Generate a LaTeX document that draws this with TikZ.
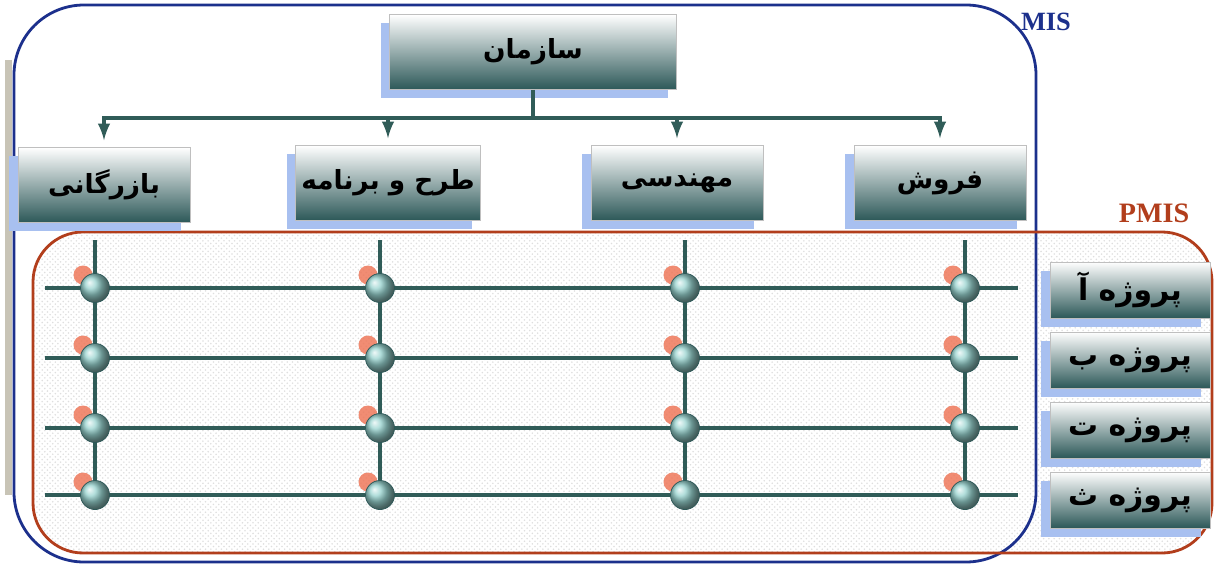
\documentclass[tikz,border=0pt]{standalone}
\usepackage{fontspec}
\setmainfont{Liberation Serif}
\newfontfamily\farsi[Script=Arabic]{DejaVu Sans}
\TeXXeTstate=1
\usetikzlibrary{shadows,patterns}
\definecolor{misblue}{RGB}{28,48,140}
\definecolor{pmisred}{RGB}{178,62,28}
\definecolor{boxdark}{RGB}{44,88,88}
\definecolor{wireteal}{RGB}{48,92,88}
\definecolor{hubteal}{RGB}{150,210,206}
\definecolor{tagred}{RGB}{238,120,90}
\definecolor{sidebar}{RGB}{200,196,182}
\definecolor{shadowblue}{RGB}{168,192,240}
\newcommand{\prs}[1]{{\farsi\bfseries\beginR #1\endR}}

\begin{document}
\begin{tikzpicture}[x=0.02cm,y=-0.02cm,thick]
    %
    % `unit' is used by every box (departments and projects).
    % `hub' and `tag' are the balls at the crossings.
    % `frame' is used for the MIS and PMIS outlines.
    \tikzstyle{unit} = [draw=gray!50,thin,top color=white,bottom color=boxdark,
        general shadow={shadow xshift=-5pt,shadow yshift=-5pt,fill=shadowblue},
        font=\fontsize{15}{18}\selectfont]
    \tikzstyle{dept} = [unit,minimum width=3.44cm,minimum height=1.5cm]
    \tikzstyle{proj} = [unit,minimum width=3.2cm,minimum height=1.12cm,font=\fontsize{17}{20}\selectfont]
    \tikzstyle{link} = [draw=wireteal,line width=2.2pt]
    \tikzstyle{wire} = [draw=wireteal,line width=2.2pt]
    \tikzstyle{hub} = [circle,draw=boxdark,thin,shading=ball,ball color=hubteal,minimum size=0.58cm,inner sep=0pt]
    \tikzstyle{tag} = [circle,fill=tagred,opacity=0.85,minimum size=0.38cm,inner sep=0pt]
    \tikzstyle{frame} = [line width=1.6pt]
    %
    \useasboundingbox (0,0) rectangle (1214,565);
    %
    % Outlines
    \fill[sidebar] (5,60) rectangle (12,495);
    \fill[pattern=crosshatch dots,pattern color=gray!25,rounded corners=1cm] (33,232) rectangle (1212,553);
    \draw[frame,misblue,rounded corners=1.4cm] (14,5) rectangle (1036,562);
    \draw[frame,pmisred,rounded corners=1cm] (33,232) rectangle (1212,553);
    \node[misblue,font=\bfseries\fontsize{15}{18}\selectfont] (mis) at (1046,22) {MIS};
    \node[pmisred,font=\bfseries\fontsize{16}{18}\selectfont] (pmis) at (1154,213) {PMIS};
    %
    % Organisation
    \node[unit,minimum width=5.74cm,minimum height=1.5cm] (org) at (533,52) {\prs{سازمان}};
    %
    % Departments
    \node[dept] (trade) at (104,185) {\prs{بازرگانی}};
    \node[dept] (plan) at (388,183) {\prs{طرح و برنامه}};
    \node[dept] (eng) at (677,183) {\prs{مهندسی}};
    \node[dept] (sales) at (940,183) {\prs{فروش}};
    %
    % Tree
    \coordinate (fork) at (533,118);
    \draw[link] (org) -- (fork);
    \foreach \d in {trade,plan,eng,sales}
        \draw[link,-latex,shorten >=4pt] (fork) -| (\d);
    %
    % Wires
    \foreach \c/\x in {1/95,2/380,3/685,4/965} {
        \coordinate (top\c) at (\x,240);
        \coordinate (bot\c) at (\x,510);
        \draw[wire] (top\c) -- (bot\c);
    }
    \foreach \r/\y in {1/288,2/358,3/428,4/495} {
        \coordinate (left\r) at (45,\y);
        \coordinate (right\r) at (1018,\y);
        \draw[wire] (left\r) -- (right\r);
    }
    %
    % Crossings
    \foreach \c/\x in {1/95,2/380,3/685,4/965}
        \foreach \r/\y in {1/288,2/358,3/428,4/495} {
            \node[tag] (tag\c\r) at (\x-12,\y-13) {};
            \node[hub] (hub\c\r) at (\x,\y) {};
        }
    %
    % Projects
    \node[proj] (pa) at (1130,290) {\prs{پروژه آ}};
    \node[proj] (pb) at (1130,360) {\prs{پروژه ب}};
    \node[proj] (pt) at (1130,430) {\prs{پروژه ت}};
    \node[proj] (pth) at (1130,500) {\prs{پروژه ث}};
    %
\end{tikzpicture}
\end{document}
